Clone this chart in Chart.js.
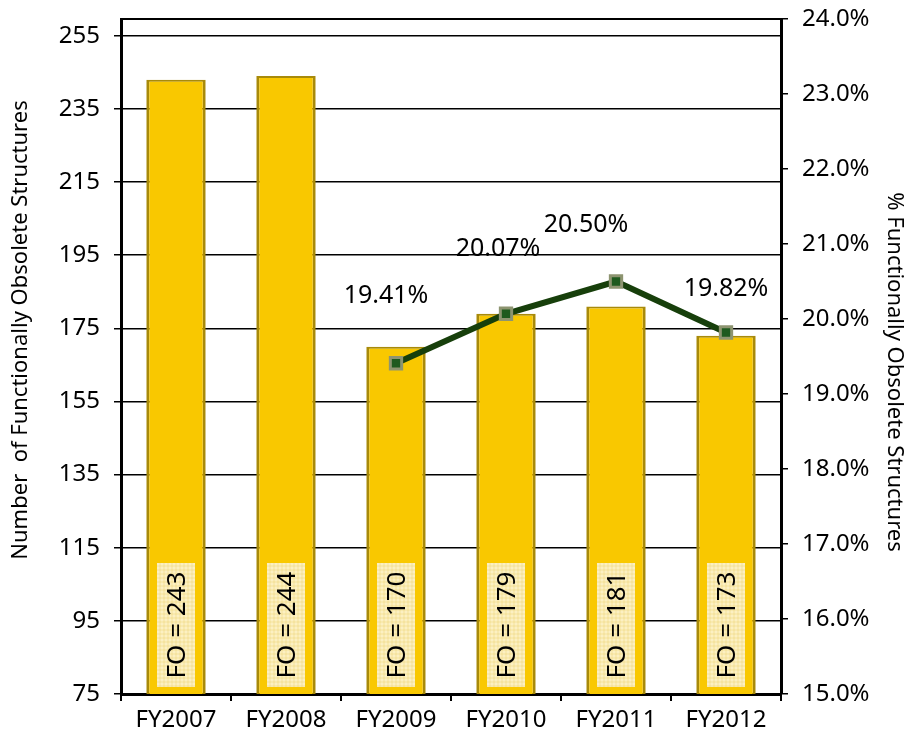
<!DOCTYPE html>
<html>
<head>
<meta charset="utf-8">
<script src="https://cdn.jsdelivr.net/npm/chart.js@4"></script>
<style>
  html, body { margin: 0; padding: 0; background: #fff; }
  #wrap { width: 909px; height: 740px; }
</style>
</head>
<body>
<div id="wrap"><canvas id="myChart" width="909" height="740"></canvas></div>
<script>
const years = ['FY2007', 'FY2008', 'FY2009', 'FY2010', 'FY2011', 'FY2012'];
const foCounts = [243, 244, 170, 179, 181, 173];
const foPercent = [null, null, 19.41, 20.07, 20.50, 19.82];
const countTicks = [75, 95, 115, 135, 155, 175, 195, 215, 235, 255];
const percentTicks = [15, 16, 17, 18, 19, 20, 21, 22, 23, 24];
const leftTitle = 'Number  of Functionally Obsolete Structures';
const rightTitle = '% Functionally Obsolete Structures';

const FONT = '"Noto Sans", sans-serif';

// FO = xxx boxes inside the bars, % labels over the line, top border, axis titles
const extras = {
    id: 'extras',
    afterDatasetsDraw: function(chart, args, opts) {
        var ctx = chart.ctx;
        var area = chart.chartArea;

        ctx.save();
        ctx.strokeStyle = '#000';
        ctx.lineWidth = 2;
        ctx.beginPath();
        ctx.moveTo(area.left, area.top);
        ctx.lineTo(area.right, area.top);
        ctx.stroke();
        ctx.restore();

        var bars = chart.getDatasetMeta(0).data;
        bars.forEach(function(bar, i) {
            var w = 38, h = 124;
            var x = bar.x - w / 2;
            var y = area.bottom - 7 - h;
            ctx.save();
            ctx.fillStyle = '#FCF0C2';
            ctx.fillRect(x, y, w, h);
            ctx.strokeStyle = 'rgba(230,200,90,0.35)';
            ctx.lineWidth = 1;
            for (var gx = x + 3; gx < x + w; gx += 4) {
                ctx.beginPath(); ctx.moveTo(gx, y); ctx.lineTo(gx, y + h); ctx.stroke();
            }
            for (var gy = y + 3; gy < y + h; gy += 4) {
                ctx.beginPath(); ctx.moveTo(x, gy); ctx.lineTo(x + w, gy); ctx.stroke();
            }
            ctx.translate(bar.x + 1, y + h / 2);
            ctx.rotate(-Math.PI / 2);
            ctx.fillStyle = '#000';
            ctx.font = '26px ' + FONT;
            ctx.textAlign = 'center';
            ctx.textBaseline = 'middle';
            ctx.fillText('FO = ' + foCounts[i], 0, 1);
            ctx.restore();
        });

        var pts = chart.getDatasetMeta(1).data;
        ctx.save();
        ctx.fillStyle = '#000';
        ctx.font = '25px ' + FONT;
        ctx.textAlign = 'center';
        ctx.textBaseline = 'middle';
        pts.forEach(function(p, i) {
            if (foPercent[i] === null) return;
            var off = opts.offsets[i];
            ctx.fillText(foPercent[i].toFixed(2) + '%', p.x + off[0], p.y + off[1]);
        });
        ctx.restore();

        // axis titles
        ctx.save();
        ctx.fillStyle = '#000';
        ctx.font = '22px ' + FONT;
        ctx.textAlign = 'center';
        ctx.textBaseline = 'middle';
        ctx.translate(21, 330);
        ctx.rotate(-Math.PI / 2);
        ctx.fillText(leftTitle, 0, 0);
        ctx.restore();

        ctx.save();
        ctx.fillStyle = '#000';
        ctx.font = '22px ' + FONT;
        ctx.textAlign = 'center';
        ctx.textBaseline = 'middle';
        ctx.translate(894, 372);
        ctx.rotate(Math.PI / 2);
        ctx.fillText(rightTitle, 0, 0);
        ctx.restore();
    }
};

function noVPad(s) {
    s.paddingTop = 0;
    s.paddingBottom = 0;
}

const ctx = document.getElementById('myChart').getContext('2d');
new Chart(ctx, {
    type: 'bar',
    data: {
        labels: years,
        datasets: [{
            type: 'bar',
            data: foCounts,
            yAxisID: 'y',
            backgroundColor: '#F9C800',
            borderColor: '#A88A0A',
            borderWidth: { left: 3, right: 3, top: 2, bottom: 0 },
            borderSkipped: 'bottom',
            barPercentage: 0.54,
            categoryPercentage: 1,
            order: 2
        }, {
            type: 'line',
            data: foPercent,
            yAxisID: 'y1',
            borderColor: '#173F0B',
            borderWidth: 6,
            tension: 0,
            pointStyle: 'rect',
            pointRadius: 8,
            pointBackgroundColor: '#1E5A1E',
            pointBorderColor: '#8D9470',
            pointBorderWidth: 3,
            order: 1
        }]
    },
    options: {
        responsive: false,
        animation: false,
        layout: { padding: { top: 19, left: 0, right: 0, bottom: 0 } },
        plugins: {
            legend: { display: false },
            tooltip: { enabled: false },
            extras: { offsets: [null, null, [-10, -67], [-8, -65], [-30, -57], [0, -44]] }
        },
        scales: {
            x: {
                offset: true,
                grid: { offset: true, drawOnChartArea: false, drawTicks: true, tickLength: 7, tickColor: '#000', lineWidth: 2 },
                border: { color: '#000', width: 3 },
                ticks: { color: '#000', font: { family: FONT, size: 24 }, padding: 5 },
                afterFit: function(s) { s.height = 46; }
            },
            y: {
                position: 'left',
                min: 75,
                max: 259.6,
                afterBuildTicks: function(s) { s.ticks = countTicks.map(function(v) { return { value: v }; }); },
                grid: { color: '#000', lineWidth: 1.5, tickLength: 7, tickColor: '#000' },
                border: { color: '#000', width: 3 },
                ticks: { color: '#000', font: { family: FONT, size: 24 }, padding: 14 },
                afterFit: function(s) { s.width = 121; noVPad(s); }
            },
            y1: {
                position: 'right',
                min: 15,
                max: 24,
                afterBuildTicks: function(s) { s.ticks = percentTicks.map(function(v) { return { value: v }; }); },
                grid: { drawOnChartArea: false, tickLength: 7, tickColor: '#000', lineWidth: 1.5 },
                border: { color: '#000', width: 3 },
                ticks: { color: '#000', font: { family: FONT, size: 24 }, padding: 14, callback: function(v) { return v.toFixed(1) + '%'; } },
                afterFit: function(s) { s.width = 128; noVPad(s); }
            }
        }
    },
    plugins: [extras]
});
</script>
</body>
</html>
